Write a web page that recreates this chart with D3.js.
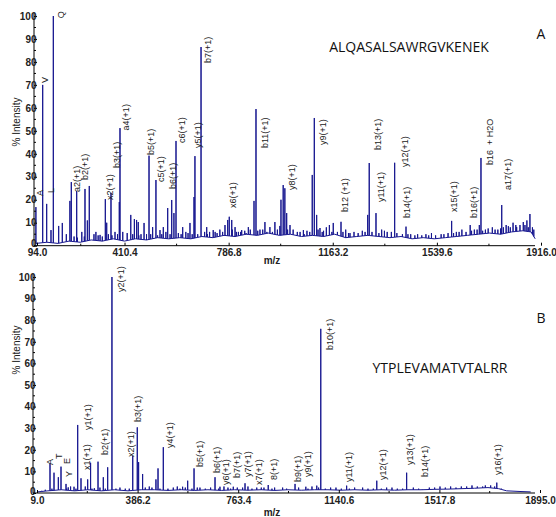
<!DOCTYPE html>
<html>
<head>
<meta charset="utf-8">
<script src="https://cdn.jsdelivr.net/npm/d3@7"></script>
<style>
  body { margin: 0; background: #fff; }
  svg { display: block; }
</style>
</head>
<body>
<div id="chart"></div>
<script>
// ---- Panel A data ----
const sequenceA = "ALQASALSAWRGVKENEK";
const mzTicksA = [94.0, 410.4, 786.8, 1163.2, 1539.6, 1916.0];

// main peaks [m/z, % intensity]
const peaksA = [
  [90, 16.8], [114.6, 70], [129, 18.2], [144.6, 6.8], [153, 100], [172.4, 8.6], [185.5, 9.9],
  [213, 19.5], [218, 27.7], [237.5, 23.8], [267.5, 24.7], [276, 11], [283, 26], [307, 6],
  [322, 4.7], [341, 20.3], [346, 10], [361.5, 23], [376, 6], [391.5, 19], [394, 51.2],
  [433, 13.4], [446, 11.6], [454, 11.2], [460, 10.3], [481, 9.9], [499, 39.2], [512, 8.1],
  [524, 28.6], [538.6, 6.8], [550.6, 8.1], [566.5, 16.4], [581, 19.9], [589, 14.2], [596.5, 45.6],
  [620.7, 8.1], [647, 9.9], [661.6, 21.2], [665, 39], [687, 86.5], [707.5, 8.1], [731, 6.8],
  [773.6, 9], [783.4, 11.2], [789, 12.6], [798, 11.2], [810, 8.1], [834, 6.8], [858, 8.1],
  [878.5, 19.5], [885.7, 59.5], [918, 10.3], [936, 8.1], [954, 10.3], [972, 8.6],
  [976, 20], [984, 26.4], [990, 25], [996.6, 14.2], [1008.6, 9], [1057, 6.8], [1089, 30.8],
  [1096.5, 55.6], [1105, 13.4], [1117, 7.7], [1151, 9], [1165, 9.9], [1193, 10.4], [1225.5, 5.5],
  [1289.5, 13.4], [1295, 36], [1319.5, 14.2], [1387, 36.1], [1428, 8.3], [1593, 10.8],
  [1660, 9], [1693, 9], [1699, 38.2], [1774, 17.7], [1828, 8.1], [1852, 10.3], [1876, 13.8]
];

// small noise spikes [m/z, % intensity]
const noiseA = [
  [200, 5], [228, 4], [240, 3.5], [256, 6], [265, 4], [300, 5], [315, 4.5], [330, 4], [352, 5],
  [365, 4.5], [385, 5], [404, 6], [420, 5.5], [440, 5], [462, 4.5], [470, 5], [490, 5], [505, 5],
  [530, 4.5], [545, 5], [560, 6], [575, 5], [605, 5.5], [615, 5], [632, 6], [640, 5.5], [655, 5],
  [675, 5], [700, 6], [710, 5], [718, 6], [738, 6], [745, 5.5], [755, 7], [765, 6], [800, 7],
  [815, 6], [822, 6], [830, 6], [845, 6.5], [850, 5.5], [865, 7], [892, 6.5], [900, 7], [910, 7],
  [925, 6], [945, 6], [963, 7], [1000, 7], [1020, 7], [1035, 6], [1045, 6], [1060, 5], [1070, 6.5],
  [1080, 6], [1110, 7], [1125, 6], [1130, 6.5], [1140, 8], [1160, 6], [1180, 6], [1200, 6],
  [1210, 7], [1220, 5.5], [1240, 6], [1255, 5.5], [1270, 6.5], [1280, 6], [1305, 6], [1330, 5.5],
  [1340, 7], [1350, 6.5], [1360, 6], [1375, 6], [1395, 5.5], [1415, 5], [1435, 5], [1445, 5],
  [1460, 4.5], [1470, 5], [1485, 4.5], [1500, 5], [1510, 4.5], [1520, 5.5], [1535, 4.5], [1555, 5],
  [1565, 5], [1580, 5.5], [1600, 5.5], [1610, 6], [1620, 6], [1630, 7], [1645, 6], [1665, 6.5],
  [1675, 7], [1685, 7], [1705, 6.5], [1715, 7], [1725, 7.5], [1740, 8], [1750, 7], [1760, 7],
  [1770, 7.5], [1780, 8], [1790, 9], [1798, 8.5], [1805, 8], [1815, 10], [1825, 9], [1840, 9],
  [1858, 9], [1865, 11], [1870, 8], [1885, 8], [1890, 7]
];

// baseline level [m/z, % intensity]
const baselineA = [
  [90, 1], [130, 1.5], [170, 1], [210, 2], [250, 1.5], [290, 2.5], [330, 2], [370, 3], [410, 2],
  [450, 3], [490, 2.5], [530, 3.5], [570, 3], [610, 3.5], [650, 3], [690, 4], [730, 3.5],
  [770, 4.5], [810, 4], [850, 5], [890, 4.5], [930, 5.5], [970, 4.5], [1010, 5], [1050, 4],
  [1090, 4.5], [1130, 4], [1170, 5], [1210, 3.5], [1250, 4], [1290, 4.5], [1330, 4], [1370, 3.5],
  [1410, 4], [1450, 3], [1490, 3.5], [1530, 3], [1570, 3.5], [1610, 4], [1650, 4.5], [1690, 5],
  [1730, 5.5], [1770, 5], [1810, 6], [1850, 6.5], [1880, 6], [1895, 3]
];

// annotations [text, m/z, intensity level of label start]
const labelsA = [
  ["Q", 159, 99], ["V", 99, 70.8], ["A", 83, 21.6], ["L", 121, 22.9],
  ["a2(+1)", 217, 23.4], ["b2(+1)", 246, 28.6], ["x2(+1)", 336, 19.9], ["b3(+1)", 361.5, 33.8],
  ["a4(+1)", 394, 50.2], ["b5(+1)", 484, 39.5], ["c5(+1)", 520.6, 27.7], ["b6(+1)", 564, 24.7],
  ["c6(+1)", 596.5, 44.7], ["y5(+1)", 654, 42.5], ["b7(+1)", 690.5, 79.5], ["x6(+1)", 781, 16.4],
  ["b11(+1)", 896.5, 42.5], ["y8(+1)", 994, 24.2], ["y9(+1)", 1106, 43.8], ["b12 (+1)", 1186, 14.7],
  ["b13(+1)", 1305, 41.7], ["y11(+1)", 1316, 19], ["y12(+1)", 1403, 34.3], ["b14(+1)", 1410, 12.1],
  ["x15(+1)", 1580, 14.7], ["b16(+1)", 1652, 12.1], ["b16  + H2O", 1710, 35.1], ["a17(+1)", 1775, 24.2]
];

// ---- Panel B data ----
const sequenceB = "YTPLEVAMATVTALRR";
const mzTicksB = [9.0, 386.2, 763.4, 1140.6, 1517.8, 1895.0];

const peaksB = [
  [26.6, 1], [57.8, 13.7], [72.8, 9.4], [89, 7.3], [99, 12.2], [117.8, 4.2], [126, 2.6],
  [147.8, 2.9], [161.6, 31.5], [174, 6.8], [199, 6.3], [210, 14], [224, 2.2], [237.8, 14.5],
  [257.6, 7.3], [274, 11.9], [290, 100], [368, 17.1], [385, 30.4], [390, 14.3], [405, 8.8],
  [455, 6.3], [462.8, 11.4], [482.6, 21.2], [555, 2.9], [574, 5.7], [597.8, 11.4], [676.5, 7.3],
  [695, 2.9], [745, 2.9], [789, 4.5], [833, 2.5], [876, 3.7], [976.5, 4.2], [1017, 2.9],
  [1058, 3.4], [1073, 76], [1170, 3.4], [1283, 5.7], [1395, 9.4], [1452, 1.7], [1733, 4.8]
];

const noiseB = [
  [40, 1.5], [65, 2], [120, 2], [135, 3], [155, 2], [190, 3], [215, 2], [245, 2.5], [265, 2],
  [305, 2], [320, 2.5], [340, 2], [355, 2], [415, 2.5], [430, 3], [440, 2.5], [470, 2], [500, 2],
  [520, 2.5], [535, 3], [545, 2], [565, 2.5], [590, 2], [610, 2.5], [620, 2.5], [640, 2],
  [660, 2.5], [690, 2], [710, 3], [725, 2.5], [735, 2], [760, 2.5], [780, 2.5], [800, 3],
  [815, 2], [850, 2.5], [860, 2.5], [890, 2], [900, 2.5], [930, 2.5], [945, 2], [990, 2.5],
  [1025, 2], [1040, 3], [1065, 2.5], [1090, 2], [1110, 2.5], [1130, 2.5], [1150, 2], [1180, 2],
  [1200, 2.5], [1230, 2.5], [1250, 2], [1270, 2], [1300, 2], [1320, 2.5], [1340, 2.5], [1360, 2],
  [1380, 2], [1420, 2.5], [1440, 2], [1480, 2.5], [1500, 2.5], [1520, 3], [1540, 2.5], [1560, 3],
  [1580, 2.5], [1600, 3], [1620, 3], [1640, 3.5], [1660, 3], [1680, 3], [1690, 3.5], [1710, 3.5],
  [1725, 3], [1750, 2]
];

const baselineB = [
  [9, 0.5], [50, 1], [100, 1.5], [150, 1], [200, 1.5], [250, 1], [300, 1.5], [350, 1], [400, 1.5],
  [450, 1.5], [500, 1.2], [550, 1.5], [600, 1.2], [650, 1.5], [700, 1.2], [750, 1.5], [800, 1.3],
  [850, 1.5], [900, 1.2], [950, 1.5], [1000, 1.3], [1050, 1.5], [1100, 1.5], [1150, 1.3],
  [1200, 1.5], [1250, 1.3], [1300, 1.5], [1350, 1.3], [1400, 1.5], [1450, 1.5], [1500, 1.7],
  [1550, 1.8], [1600, 2], [1650, 2.2], [1700, 2.5], [1740, 2], [1770, 1], [1820, 0.7], [1860, 0.5]
];

const labelsB = [
  ["y2(+1)", 301.5, 93], ["b10(+1)", 1085, 66.2], ["A", 35, 13], ["T", 69, 15.7], ["E", 99, 13.4],
  ["Y", 106.5, 7.4], ["y1(+1)", 178, 29.2], ["x1(+1)", 174, 10.6], ["b2(+1)", 241.5, 17.6],
  ["x2(+1)", 339, 16.7], ["b3(+1)", 365, 32.9], ["y4(+1)", 485, 20.8], ["b5(+1)", 598, 12],
  ["b6(+1)", 661.5, 9.3], ["y6(+1)", 695, 3.7], ["b7(+1)", 736.5, 6.9], ["y7(+1)", 778, 7.4],
  ["x7(+1)", 819, 3.7], ["8(+1)", 875, 6], ["b9(+1)", 965, 5.1], ["y9(+1)", 1003, 7.4],
  ["y11(+1)", 1156.5, 5.1], ["y12(+1)", 1284, 6], ["y13(+1)", 1385, 13], ["b14(+1)", 1441.5, 7.4],
  ["y16(+1)", 1715, 8.3]
];

const W = 556, H = 517;
const svg = d3.select("#chart").append("svg")
  .attr("width", W)
  .attr("height", H);

function drawPanel(p) {
  const g = svg.append("g");
  const mzDomain = [p.ticks[0], p.ticks[p.ticks.length - 1]];

  const x = d3.scaleLinear().domain(mzDomain).range([p.x0, p.x1]);
  const y = d3.scaleLinear().domain([0, 100]).range([p.yb, p.yt]);

  // baseline level as piecewise linear scale
  const base = d3.scaleLinear()
    .domain(p.baseline.map(d => d[0]))
    .range(p.baseline.map(d => d[1]))
    .clamp(true);

  // combine baseline + sticks into one trace
  const events = [];
  p.baseline.forEach(d => events.push({ mz: d[0], type: "b", v: d[1] }));
  p.peaks.concat(p.noise).forEach(d => events.push({ mz: d[0], type: "p", v: d[1] }));
  events.sort((a, b) => a.mz - b.mz);

  const path = d3.path();
  events.forEach((e, i) => {
    const px = x(e.mz);
    if (i === 0) path.moveTo(px, y(base(e.mz)));
    if (e.type === "b") {
      path.lineTo(px, y(e.v));
    } else {
      const b = y(base(e.mz));
      path.lineTo(px, b);
      path.lineTo(px, y(e.v));
      path.lineTo(px, b);
    }
  });

  g.append("path")
    .attr("d", path.toString())
    .attr("fill", "none")
    .attr("stroke", "#16168f")
    .attr("stroke-width", 1)
    .attr("stroke-linejoin", "miter");

  // y axis
  const yAxis = d3.axisLeft(y)
    .tickValues(d3.range(0, 101, 10))
    .tickSize(-3)
    .tickSizeOuter(0)
    .tickPadding(-2.5);
  const ya = g.append("g")
    .attr("transform", `translate(${p.axisX},0)`)
    .call(yAxis);
  ya.select(".domain").attr("d", `M0,${p.yb}V${p.yt - 3}`);
  ya.selectAll(".tick text")
    .style("font-family", "'Liberation Sans', Arial, sans-serif")
    .style("font-size", "10px")
    .style("font-weight", "bold")
    .attr("fill", "#222");
  // keep the 0 label just clear of the first m/z label
  ya.selectAll(".tick text").filter(d => d === 0).attr("dy", "0.1em");
  ya.selectAll(".minor")
    .data(d3.range(5, 100, 10))
    .enter().append("line")
    .attr("x1", 0).attr("x2", 2)
    .attr("y1", d => y(d)).attr("y2", d => y(d))
    .attr("stroke", "#000");

  // x axis
  const xAxis = d3.axisBottom(x)
    .tickValues(p.ticks)
    .tickSize(-3)
    .tickSizeOuter(0)
    .tickPadding(3.5)
    .tickFormat(d3.format(".1f"));
  const xa = g.append("g")
    .attr("transform", `translate(0,${p.yb})`)
    .call(xAxis);
  xa.select(".domain").attr("d", `M${p.axisX},0H${p.axisEnd}`);
  xa.selectAll(".tick text")
    .style("font-family", "'Liberation Sans', Arial, sans-serif")
    .style("font-size", "10px")
    .style("font-weight", "bold")
    .attr("fill", "#222");
  const mids = d3.pairs(p.ticks).map(([a, b]) => (a + b) / 2);
  xa.selectAll(".minor")
    .data(mids)
    .enter().append("line")
    .attr("x1", d => x(d)).attr("x2", d => x(d))
    .attr("y1", 0).attr("y2", -2)
    .attr("stroke", "#000");

  // peak annotations
  g.selectAll(".ann")
    .data(p.labels)
    .enter().append("text")
    .attr("transform", d => `translate(${x(d[1]) + 6},${y(d[2])}) rotate(-90)`)
    .attr("dy", "0.35em")
    .style("font-family", "'Liberation Sans', Arial, sans-serif")
    .style("font-size", "9px")
    .attr("fill", "#222")
    .style("white-space", "pre")
    .text(d => d[0]);

  // axis titles
  g.append("text")
    .attr("transform", `translate(${p.ylabX},${p.ylabY}) rotate(-90)`)
    .attr("text-anchor", "middle")
    .style("font-family", "'Liberation Sans', Arial, sans-serif")
    .style("font-size", "10px")
    .attr("fill", "#222")
    .text("% Intensity");

  g.append("text")
    .attr("x", 272)
    .attr("y", p.mzY)
    .attr("text-anchor", "middle")
    .style("font-family", "'Liberation Sans', Arial, sans-serif")
    .style("font-size", "10px")
    .style("font-weight", "bold")
    .attr("fill", "#222")
    .text("m/z");

  // peptide sequence + panel letter
  g.append("text")
    .attr("x", p.seqX)
    .attr("y", p.seqY)
    .attr("text-anchor", "middle")
    .style("font-family", "'Open Sans', sans-serif")
    .style("font-size", "14px")
    .attr("fill", "#111")
    .text(p.seq);

  g.append("text")
    .attr("x", 541)
    .attr("y", p.letterY)
    .attr("text-anchor", "middle")
    .style("font-family", "'Open Sans', sans-serif")
    .style("font-size", "14px")
    .attr("fill", "#111")
    .text(p.letter);
}

drawPanel({
  ticks: mzTicksA, peaks: peaksA, noise: noiseA, baseline: baselineA, labels: labelsA,
  x0: 37, x1: 541, axisX: 34, axisEnd: 535, yb: 245.7, yt: 16,
  ylabX: 20, ylabY: 122, mzY: 264,
  seq: sequenceA, seqX: 409, seqY: 52, letter: "A", letterY: 39
});

drawPanel({
  ticks: mzTicksB, peaks: peaksB, noise: noiseB, baseline: baselineB, labels: labelsB,
  x0: 37, x1: 540, axisX: 33, axisEnd: 535, yb: 493, yt: 277,
  ylabX: 20, ylabY: 350, mzY: 516,
  seq: sequenceB, seqX: 440, seqY: 373, letter: "B", letterY: 323
});
</script>
</body>
</html>
